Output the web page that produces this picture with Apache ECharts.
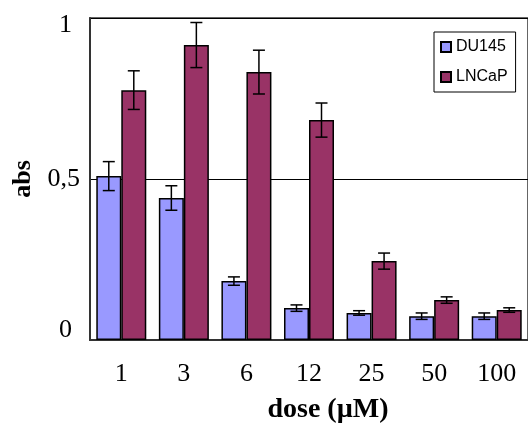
<!DOCTYPE html>
<html>
<head>
<meta charset="utf-8">
<title>abs vs dose</title>
<script src="https://cdn.jsdelivr.net/npm/echarts@6/dist/echarts.min.js"></script>
<style>
  html, body { margin: 0; padding: 0; background: #fff; }
  #chart { width: 528px; height: 430px; }
</style>
</head>
<body>
<div id="chart"></div>
<script>
// data
var doses = ['1', '3', '6', '12', '25', '50', '100'];
var du145 = [0.509, 0.441, 0.183, 0.099, 0.084, 0.074, 0.074];
var du145Err = [0.045, 0.038, 0.013, 0.010, 0.007, 0.010, 0.010];
var lncap = [0.776, 0.916, 0.832, 0.683, 0.245, 0.124, 0.093];
var lncapErr = [0.060, 0.070, 0.068, 0.053, 0.025, 0.010, 0.007];
var yTicks = [0, 0.5, 1];

var BAR_W = 25;
var serif = '"Liberation Serif", "Times New Roman", serif';

function errSeries(vals, errs, side) {
  var data = vals.map(function (v, i) { return [i, v, errs[i]]; });
  return {
    type: 'custom',
    silent: true,
    z: 5,
    data: data,
    renderItem: function (params, api) {
      var i = api.value(0), v = api.value(1), e = api.value(2);
      var hi = api.coord([i, v + e]);
      var lo = api.coord([i, v - e]);
      var x = hi[0] + side * BAR_W / 2;
      var cap = 6;
      var st = { stroke: '#000', lineWidth: 1.5 };
      return {
        type: 'group',
        children: [
          { type: 'line', shape: { x1: x, y1: hi[1], x2: x, y2: lo[1] }, style: st },
          { type: 'line', shape: { x1: x - cap, y1: hi[1], x2: x + cap, y2: hi[1] }, style: st },
          { type: 'line', shape: { x1: x - cap, y1: lo[1], x2: x + cap, y2: lo[1] }, style: st }
        ]
      };
    }
  };
}

var chart = echarts.init(document.getElementById('chart'));
chart.setOption({
  animation: false,
  backgroundColor: '#fff',
  grid: {
    left: 90, top: 18, bottom: 90, width: 443,
    show: true, borderColor: '#333', borderWidth: 1.5
  },
  legend: {
    orient: 'vertical',
    left: 434, top: 32,
    padding: [7, 8, 7, 6],
    itemGap: 14,
    itemWidth: 10, itemHeight: 10,
    itemTextGap: 6,
    borderColor: '#000', borderWidth: 1,
    backgroundColor: '#fff',
    textStyle: { fontFamily: '"Liberation Sans", Arial, sans-serif', fontSize: 16, color: '#000' },
    data: [
      { name: 'DU145', icon: 'rect' },
      { name: 'LNCaP', icon: 'rect' }
    ]
  },
  xAxis: {
    type: 'category',
    data: doses,
    name: 'dose (µM)',
    nameLocation: 'middle',
    nameGap: 56,
    nameTextStyle: { fontFamily: serif, fontSize: 28, fontWeight: 'bold', color: '#000', padding: [0, 0, 0, 38] },
    axisLine: { lineStyle: { color: '#333', width: 2 } },
    axisTick: { show: false },
    axisLabel: { fontFamily: serif, fontSize: 26, color: '#000', margin: 21 }
  },
  yAxis: {
    type: 'value',
    min: yTicks[0], max: yTicks[yTicks.length - 1], interval: 0.5,
    name: 'abs',
    nameLocation: 'middle',
    nameRotate: 90,
    nameGap: 51,
    nameTextStyle: { fontFamily: serif, fontSize: 26, fontWeight: 'bold', color: '#000' },
    axisLine: { show: true, lineStyle: { color: '#333', width: 2 } },
    axisTick: { show: false },
    axisLabel: {
      fontFamily: serif, fontSize: 26, color: '#000', margin: 10,
      formatter: function (v) {
        var s = String(v).replace('.', ',');
        if (v === yTicks[yTicks.length - 1]) return '{hi|' + s + '}';
        if (v === yTicks[0]) return '{lo|' + s + '}';
        return s;
      },
      rich: {
        hi: { fontFamily: serif, fontSize: 26, color: '#000', padding: [14, 8, 0, 0] },
        lo: { fontFamily: serif, fontSize: 26, color: '#000', padding: [0, 8, 20, 0] }
      }
    },
    splitLine: { show: true, lineStyle: { color: '#000', width: 1 } }
  },
  series: [
    {
      name: 'DU145', type: 'bar', data: du145,
      barWidth: BAR_W, barGap: '0%',
      itemStyle: { color: '#9999FF', borderColor: '#000', borderWidth: 1.5 }
    },
    {
      name: 'LNCaP', type: 'bar', data: lncap,
      barWidth: BAR_W, barGap: '0%',
      itemStyle: { color: '#993366', borderColor: '#000', borderWidth: 1.5 }
    },
    errSeries(du145, du145Err, -1),
    errSeries(lncap, lncapErr, 1)
  ]
});
</script>
</body>
</html>
